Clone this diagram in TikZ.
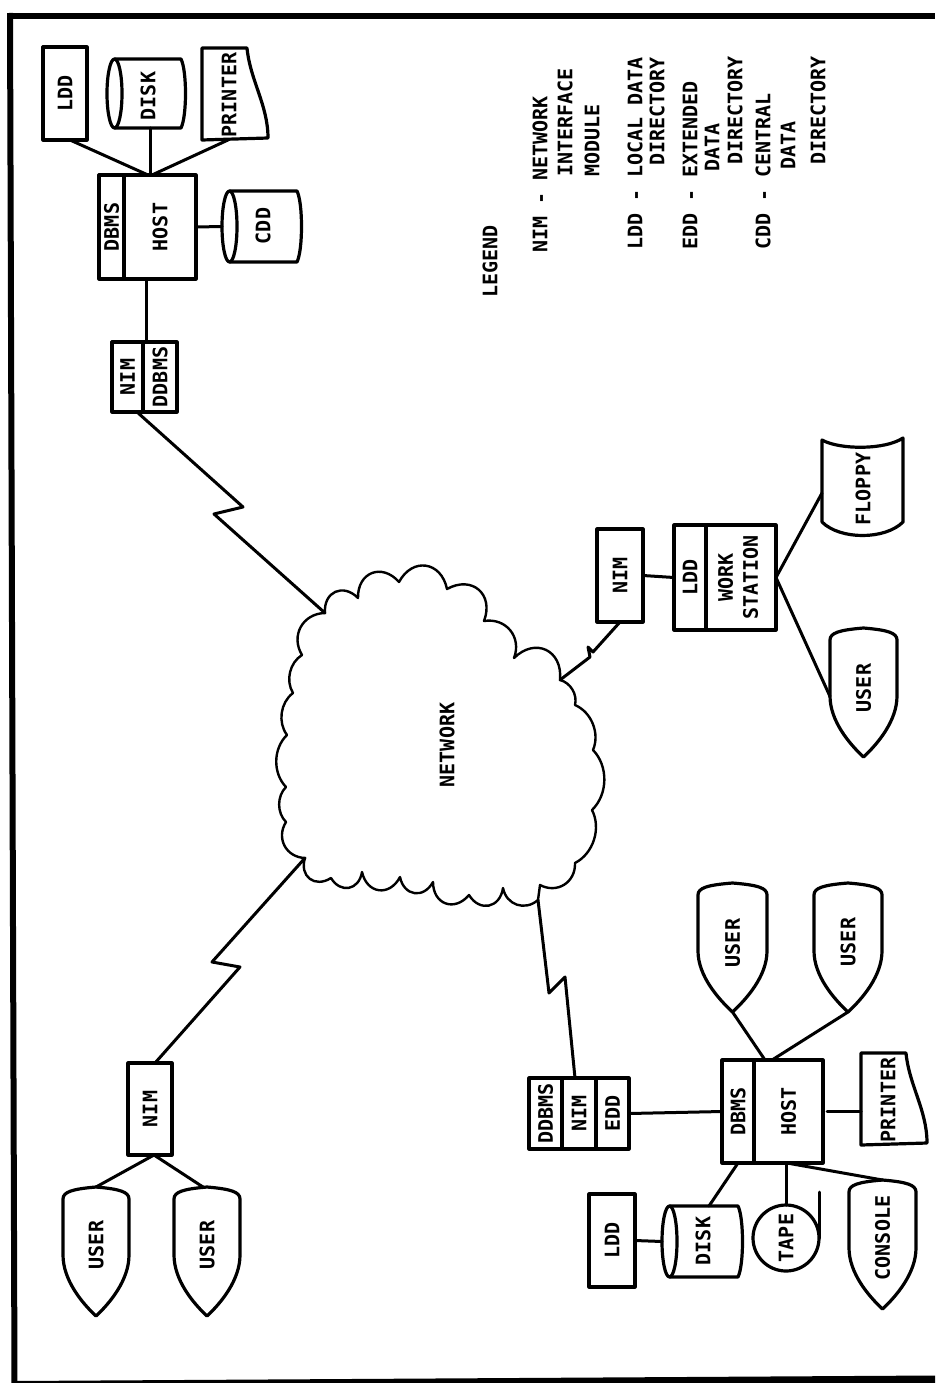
\documentclass[tikz,border=0pt]{standalone}
\usepackage{fontspec}
\setmainfont{DejaVu Sans Mono}
\usetikzlibrary{calc}
\tikzset{
  outline/.style={draw=black,line width=3.2pt,line join=round,line cap=round},
  wire/.style={draw=black,line width=3pt,line join=round,line cap=round},
  cloudline/.style={draw=black,line width=2.4pt,line join=round,line cap=round},
  frameline/.style={draw=black,line width=6pt},
  lab/.style={font=\fontsize{20pt}{22pt}\selectfont\bfseries,inner sep=0pt,text=black},
  txt/.style={lab,rotate=90},
  legendline/.style={lab,rotate=90,anchor=west},
  hit/.style={inner sep=0pt,outer sep=0pt},
  boxcell/.style={outline,lab,outer sep=0pt},
  bs/.style={bend left=45,looseness=0.95},
  bm/.style={bend left=60,looseness=1.2},
  bl/.style={bend left=70,looseness=1.5},
}
% rectangular cell: name, cx, cy, w, h, text
\newcommand\cellbox[6]{\node[boxcell,minimum width=#4pt,minimum height=#5pt] (#1) at (#2,#3) {\rotatebox{90}{#6}};}
% shield (USER, CONSOLE): name, cx, top, half width, text, text y
\newcommand\shield[6]{%
  \begin{scope}[shift={(#2,#3)}]
    \draw[outline] (-#4,12) .. controls (-#4,5) and (-#4+9,2) .. (0,0)
      .. controls (#4-9,2) and (#4,5) .. (#4,12) -- (#4,68)
      .. controls (#4,93) and (14,116) .. (0,129)
      .. controls (-14,116) and (-#4,93) .. (-#4,68) -- cycle;
    \node[hit,minimum width=2*#4 pt,minimum height=129pt] (#1) at (0,64.5) {};
  \end{scope}
  \node[txt] (#1t) at (#2,#6) {#5};}
% cylinder lying on its side: name, l, r, t, b, ellipse width
\newcommand\cylinder[6]{%
  \draw[outline] ({#2+#6/2},#4) -- ({#3-6},#4) .. controls (#3,{#4+12}) and (#3,{#5-12}) .. ({#3-6},#5) -- ({#2+#6/2},#5);
  \draw[outline] ({#2+#6/2},{(#4+#5)/2}) ellipse [x radius={#6/2*1pt},y radius={(#5-#4)/2*1pt}];
  \node[hit,minimum width={(#3-#2)*1pt},minimum height={(#5-#4)*1pt}] (#1) at ({(#2+#3)/2},{(#4+#5)/2}) {};}
% printer: name, l, t, text x, text y
\newcommand\printer[5]{%
  \begin{scope}[shift={(#2,#3)}]
    \draw[outline] (0,0) -- (45,0) .. controls (48,32) and (66,57) .. (66,90) -- (0,92) -- cycle;
    \node[hit,minimum width=66pt,minimum height=92pt] (#1) at (33,46) {};
  \end{scope}
  \node[txt] (#1t) at (#4,#5) {PRINTER};}
\begin{document}
\begin{tikzpicture}[x=1pt,y=-1pt]
\useasboundingbox (0,0) rectangle (935,1383);
\fill[white] (0,0) rectangle (935,1383);
% frame
\draw[frameline] (7,16) -- (935,16);
\draw[frameline] (10,13) -- (14.5,1383);
\fill[black] (14,1381) -- (935,1375.5) -- (935,1383) -- (14,1383) -- cycle;

% top host group
\cellbox{lddA}{65}{93.5}{44}{93}{LDD}
\cylinder{diskA}{107}{187}{59}{128}{15}
\node[txt] (diskAt) at (148,96) {DISK};
\printer{printA}{202}{48}{229}{95}
\cellbox{dbmsA}{111.5}{227}{25}{104}{DBMS}
\cellbox{hostA}{160}{227}{72}{104}{HOST}
\cylinder{cddA}{222}{303}{191}{262}{15}
\node[txt] (cddAt) at (263,226) {CDD};
\cellbox{nimA}{127.5}{377}{31}{70}{NIM}
\cellbox{ddbmsA}{160}{377}{34}{70}{DDBMS}
\draw[wire] ([xshift=5pt]lddA.south) -- ([xshift=-12pt]hostA.north);
\draw[wire] ([xshift=3pt]diskA.south) -- ([xshift=-10pt]hostA.north);
\draw[wire] ([xshift=-7pt]printA.south) -- ([xshift=-8pt]hostA.north);
\draw[wire] (hostA.east) -- (cddA.west);
\draw[wire] ([xshift=22pt]hostA.south west) -- ([xshift=3pt]nimA.north east);

% legend
\node[legendline] (lg0) at (490,298) {LEGEND};
\node[legendline] (lg1) at (540,253) {NIM - NETWORK};
\node[legendline] (lg2) at (565,177) {INTERFACE};
\node[legendline] (lg3) at (592,177) {MODULE};
\node[legendline] (lg4) at (635,250) {LDD - LOCAL DATA};
\node[legendline] (lg5) at (657,166) {DIRECTORY};
\node[legendline] (lg6) at (690,250) {EDD - EXTENDED};
\node[legendline] (lg7) at (712,172) {DATA};
\node[legendline] (lg8) at (735,165) {DIRECTORY};
\node[legendline] (lg9) at (763,250) {CDD - CENTRAL};
\node[legendline] (lg10) at (788,170) {DATA};
\node[legendline] (lg11) at (818,165) {DIRECTORY};

% cloud
\coordinate (c1) at (325,613);
\coordinate (c7) at (560,680);
\coordinate (c12) at (540,885);
\coordinate (c13) at (538,900);
\coordinate (c20) at (305,858);
\draw[cloudline] (c1) to[bl] (358,598) to[bl] (399,582) to[bl] (447,589) to[bl] (484,621)
  to[bm] (514,658) to[bl] (c7) to[bs] (575,705) to[bs] (593,750) to[bs] (592,810)
  to[bs] (575,863) to[bm] (c12) -- (c13) to[bm] (503,888) to[bl] (469,895) to[bl] (433,882)
  to[bl] (400,877) to[bl] (362,872) to[bl] (331,878) to[bl] (c20) to[bm] (286,822)
  to[bs] (286,787) to[bs] (287,735) to[bs] (293,693) to[bs] (302,655) to[bm] (c1);
\node[txt] (net) at (447,745) {NETWORK};

% zigzag links
\coordinate (z1a) at (243,507);
\coordinate (z1b) at (214,514);
\draw[wire] ([xshift=-6pt]nimA.south east) -- (z1a) -- (z1b) -- (c1);

% workstation group
\cellbox{nimW}{620}{575.5}{46}{93}{NIM}
\cellbox{lddW}{690}{577.5}{32}{105}{LDD}
\cellbox{workW}{741}{577.5}{70}{105}{\begin{tabular}{@{}c@{}}WORK\\[3pt]STATION\end{tabular}}
\draw[outline] (822,440) .. controls (840,450) and (885,450) .. (903,438) -- (903,522)
  .. controls (885,540) and (840,540) .. (822,522) -- cycle;
\node[hit,minimum width=81pt,minimum height=96pt] (floppy) at (862.5,488) {};
\node[txt] (floppyt) at (863,489) {FLOPPY};
\shield{userW}{863.5}{628}{33.5}{USER}{688}
\draw[wire] (nimW.east) -- (lddW.west);
\draw[wire] (workW.east) -- ([yshift=-5pt]floppy.west);
\draw[wire] (workW.east) -- ([yshift=-4pt]userW.west);
\coordinate (z2a) at (593,652);
\coordinate (z2b) at (588,647);
\coordinate (z2c) at (590,657);
\draw[wire] (nimW.south) -- (z2a) -- (z2b) -- (z2c) -- (c7);

% left NIM group
\cellbox{nimL}{150}{1109}{44}{92}{NIM}
\shield{userLa}{96}{1187}{33}{USER}{1245}
\shield{userLb}{207}{1187}{33}{USER}{1245}
\draw[wire] ([xshift=4pt]nimL.south) -- (userLa.north);
\draw[wire] ([xshift=4pt]nimL.south) -- ([xshift=-4pt]userLb.north);
\coordinate (z3a) at (212,962);
\coordinate (z3b) at (240,967);
\draw[wire] ([xshift=5pt]nimL.north) -- (z3b) -- (z3a) -- (c20);

% bottom host group
\cellbox{ddbmsB}{545.5}{1113.5}{33}{71}{DDBMS}
\cellbox{nimB}{579}{1113.5}{34}{71}{NIM}
\cellbox{eddB}{612.5}{1113.5}{33}{71}{EDD}
\cellbox{dbmsB}{738}{1111.5}{32}{103}{DBMS}
\cellbox{hostB}{788.5}{1111.5}{69}{103}{HOST}
\printer{printB}{861}{1053}{888}{1100}
\cellbox{lddB}{612}{1240.5}{46}{93}{LDD}
\cylinder{diskB}{662}{744}{1206}{1277}{15}
\node[txt] (diskBt) at (703,1241) {DISK};
\node[outline,circle,minimum size=66pt,inner sep=0pt,outer sep=0pt,lab] (tape) at (786,1238) {\rotatebox{90}{TAPE}};
\draw[wire] (tape.east) -- ++(0,-46);
\shield{console}{882.5}{1180}{33.5}{CONSOLE}{1238}
\shield{userBa}{732.5}{883}{34.5}{USER}{943}
\shield{userBb}{848}{883}{34}{USER}{942}
\draw[wire] (eddB.east) -- (dbmsB.west);
\draw[wire] ([xshift=4pt]hostB.east) -- (printB.west |- hostB.east);
\draw[wire] (lddB.east) -- (diskB.west);
\draw[wire] ([xshift=-16pt]dbmsB.south east) -- ([xshift=6pt]diskB.north);
\draw[wire] ([xshift=32pt]dbmsB.south east) -- (tape.north);
\draw[wire] ([xshift=33pt]dbmsB.south east) -- (console.north);
\draw[wire] (userBa.south) -- ([xshift=11pt]dbmsB.north east);
\draw[wire] (userBb.south) -- ([xshift=18pt]dbmsB.north east);
\coordinate (z4a) at (549,993);
\coordinate (z4b) at (565,977);
\draw[wire] (c13) -- (z4a) -- (z4b) -- ([xshift=-4pt]nimB.north);
\end{tikzpicture}
\end{document}
